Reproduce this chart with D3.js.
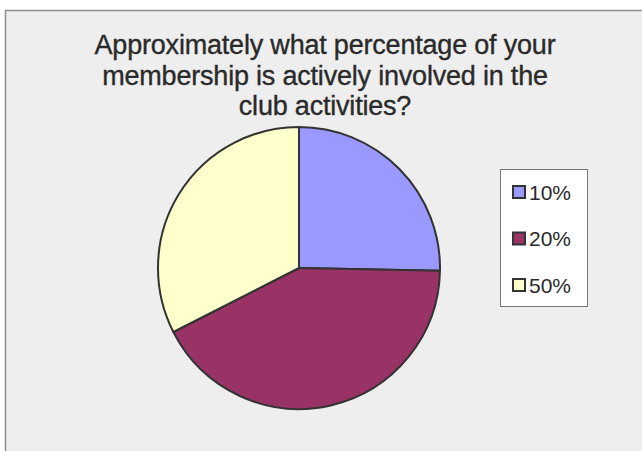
<!DOCTYPE html>
<html><head><meta charset="utf-8">
<script src="https://cdn.jsdelivr.net/npm/d3@7"></script>
<style>html,body{margin:0;padding:0;background:#fff;}svg{display:block;}</style>
</head><body>
<svg id="c" width="642" height="451"></svg>
<script>
const categories = ["10%", "20%", "50%"];
const values = [25.3, 42.2, 32.5];
const colors = ["#9999FF", "#993366", "#FFFFCC"];
const titleLines = ["Approximately what percentage of your", "membership is actively involved in the", "club activities?"];

const svg = d3.select("#c");
svg.append("rect").attr("x", 5.5).attr("y", 10.5).attr("width", 700).attr("height", 500)
  .attr("fill", "#eeeeee").attr("stroke", "#8c8c8c").attr("stroke-width", 1.5);

const font = "'Liberation Sans', Arial, sans-serif";
svg.append("g").selectAll("text").data(titleLines).join("text")
  .attr("x", 325).attr("y", (d, i) => 54 + i * 30.5)
  .attr("text-anchor", "middle").attr("font-family", font).attr("font-size", 27)
  .attr("letter-spacing", -0.2)
  .attr("fill", "#2a2a2a").attr("stroke", "#2a2a2a").attr("stroke-width", 0.35)
  .text(d => d);

const data = categories.map((c, i) => ({c, v: values[i]}));
const pie = d3.pie().value(d => d.v).sort(null);
const arc = d3.arc().innerRadius(0).outerRadius(141);
const color = d3.scaleOrdinal().domain(categories).range(colors);
svg.append("g").attr("transform", "translate(299,268)")
  .selectAll("path").data(pie(data)).join("path")
  .attr("d", arc).attr("fill", d => color(d.data.c))
  .attr("stroke", "#333").attr("stroke-width", 2).attr("stroke-linejoin", "round");

const lg = svg.append("g");
lg.append("rect").attr("x", 500.5).attr("y", 169.5).attr("width", 87).attr("height", 137)
  .attr("fill", "#fff").attr("stroke", "#777").attr("stroke-width", 1);
const ly = d3.scalePoint().domain(categories).range([192, 285]);
const items = lg.selectAll("g.it").data(categories).join("g").attr("class", "it")
  .attr("transform", d => `translate(0,${ly(d)})`);
items.append("rect").attr("x", 513).attr("y", -6).attr("width", 12).attr("height", 12)
  .attr("fill", d => color(d)).attr("stroke", "#333").attr("stroke-width", 2);
items.append("text").attr("x", 529).attr("y", 7.5).attr("font-family", font).attr("font-size", 21)
  .attr("fill", "#2a2a2a").text(d => d);
</script>
</body></html>
